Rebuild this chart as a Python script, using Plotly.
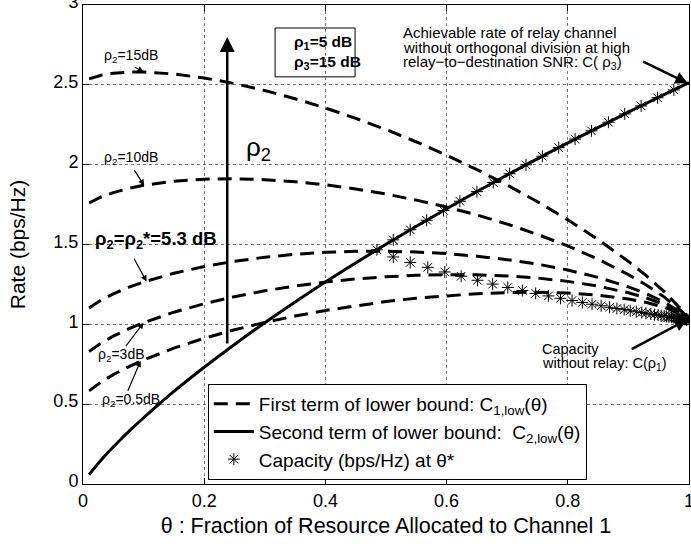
import plotly.graph_objects as go

# ---------------- data ----------------
theta = [0.01, 0.03, 0.05, 0.075, 0.1, 0.15, 0.2, 0.25, 0.3, 0.35, 0.4, 0.45, 0.5,
         0.55, 0.6, 0.65, 0.7, 0.75, 0.8, 0.85, 0.9, 0.93, 0.96, 0.98, 0.99, 1.0]
c1_rho2_0p5dB = [0.583, 0.639, 0.685, 0.734, 0.777, 0.851, 0.913, 0.966, 1.012, 1.052, 1.087, 1.117, 1.143,
                 1.164, 1.180, 1.192, 1.199, 1.201, 1.196, 1.183, 1.159, 1.137, 1.106, 1.077, 1.058, 1.029]
c1_rho2_3dB = [0.830, 0.883, 0.926, 0.971, 1.010, 1.076, 1.129, 1.173, 1.210, 1.240, 1.265, 1.284, 1.298,
               1.307, 1.311, 1.310, 1.303, 1.290, 1.269, 1.239, 1.198, 1.165, 1.123, 1.086, 1.062, 1.029]
c1_rho2_5p3dB = [1.103, 1.152, 1.191, 1.231, 1.265, 1.320, 1.362, 1.395, 1.420, 1.439, 1.451, 1.457, 1.458,
                 1.453, 1.443, 1.427, 1.405, 1.377, 1.340, 1.294, 1.235, 1.191, 1.138, 1.093, 1.066, 1.029]
c1_rho2_10dB = [1.760, 1.798, 1.825, 1.851, 1.871, 1.896, 1.909, 1.912, 1.906, 1.893, 1.874, 1.848, 1.816,
                1.778, 1.735, 1.685, 1.628, 1.563, 1.491, 1.408, 1.311, 1.245, 1.169, 1.109, 1.074, 1.029]
c1_rho2_15dB = [2.537, 2.560, 2.572, 2.580, 2.580, 2.568, 2.543, 2.508, 2.464, 2.413, 2.355, 2.290, 2.220,
                2.143, 2.059, 1.969, 1.872, 1.768, 1.655, 1.531, 1.394, 1.303, 1.202, 1.125, 1.082, 1.029]

theta_c2 = [0.01, 0.02, 0.03, 0.04, 0.06, 0.08, 0.1, 0.125, 0.15, 0.2, 0.25, 0.3, 0.35, 0.4,
            0.5, 0.6, 0.7, 0.8, 0.9, 1.0]
c2_low = [0.058, 0.106, 0.151, 0.193, 0.271, 0.345, 0.415, 0.499, 0.580, 0.731, 0.874, 1.010, 1.140, 1.265,
          1.501, 1.724, 1.935, 2.136, 2.329, 2.514]

theta_star_upper = [0.485, 0.512, 0.540, 0.567, 0.595, 0.622, 0.650, 0.677, 0.704, 0.731, 0.758, 0.785,
                    0.812, 0.839, 0.867, 0.894, 0.921, 0.948, 0.975]
cap_star_upper = [1.467, 1.529, 1.592, 1.652, 1.713, 1.771, 1.831, 1.888, 1.943, 1.999, 2.053, 2.107,
                  2.160, 2.212, 2.266, 2.318, 2.368, 2.419, 2.468]
theta_star_lower = [0.512, 0.540, 0.569, 0.597, 0.624, 0.651, 0.676, 0.701, 0.725, 0.747, 0.768, 0.788, 0.807,
                    0.824, 0.840, 0.855, 0.869, 0.881, 0.893, 0.903, 0.913, 0.922, 0.929, 0.937, 0.943, 0.949,
                    0.954, 0.959, 0.963, 0.967, 0.971, 0.974, 0.977, 0.979, 0.981, 0.983, 0.985, 0.987, 0.988,
                    0.989, 0.991, 0.992, 0.992, 0.993, 0.994, 0.995, 0.995, 0.996, 0.996, 0.997]
cap_star_lower = [1.422, 1.388, 1.357, 1.328, 1.301, 1.276, 1.252, 1.231, 1.212, 1.194, 1.178, 1.163, 1.149,
                  1.137, 1.126, 1.116, 1.107, 1.099, 1.092, 1.085, 1.079, 1.074, 1.069, 1.065, 1.061, 1.058,
                  1.054, 1.052, 1.049, 1.047, 1.045, 1.043, 1.042, 1.040, 1.039, 1.038, 1.037, 1.036, 1.035,
                  1.035, 1.034, 1.033, 1.033, 1.032, 1.032, 1.032, 1.031, 1.031, 1.031, 1.031]

x_ticks = [0, 0.2, 0.4, 0.6, 0.8, 1]
x_tick_labels = ["0", "0.2", "0.4", "0.6", "0.8", "1"]
y_ticks = [0, 0.5, 1, 1.5, 2, 2.5, 3]
y_tick_labels = ["0", "0.5", "1", "1.5", "2", "2.5", "3"]

FONT = "Liberation Sans, Arial, sans-serif"
DASH = "14px,8px"

fig = go.Figure()
first = True
for ys in [c1_rho2_0p5dB, c1_rho2_3dB, c1_rho2_5p3dB, c1_rho2_10dB, c1_rho2_15dB]:
    fig.add_trace(go.Scatter(
        x=theta, y=ys, mode="lines",
        line=dict(color="black", width=3, dash=DASH),
        name="First term of lower bound: C<sub>1,low</sub>(θ)",
        showlegend=first, legendgroup="c1"))
    first = False

fig.add_trace(go.Scatter(
    x=theta_c2, y=c2_low, mode="lines", line_shape="spline",
    line=dict(color="black", width=3),
    name="Second term of lower bound:  C<sub>2,low</sub>(θ)"))

fig.add_trace(go.Scatter(
    x=theta_star_upper + theta_star_lower, y=cap_star_upper + cap_star_lower, mode="markers",
    marker=dict(symbol="asterisk-open", size=10, color="black", line=dict(color="black", width=1)),
    name="Capacity (bps/Hz) at θ*"))

# ---------------- annotations ----------------
ann = []
def label(text, x, y, size=14, bold=False, xanchor="center"):
    t = f"<b>{text}</b>" if bold else text
    ann.append(dict(x=x, y=y, xref="x", yref="y", text=t, showarrow=False,
                    xanchor=xanchor, yanchor="middle", font=dict(family=FONT, size=size, color="black")))

def arrow(x0, y0, x1, y1, width=1, head=2, size=1.0):
    ann.append(dict(x=x1, y=y1, ax=x0, ay=y0, xref="x", yref="y", axref="x", ayref="y",
                    text="", showarrow=True, arrowhead=head, arrowsize=size, arrowwidth=width,
                    arrowcolor="black", standoff=0, startstandoff=0))

label("ρ<sub>2</sub>=15dB", 0.079, 2.68)
arrow(0.083, 2.615, 0.100, 2.580, width=1.2)
label("ρ<sub>2</sub>=10dB", 0.079, 2.04)
arrow(0.083, 1.975, 0.101, 1.870, width=1.2)
label("ρ<sub>2</sub>=ρ<sub>2</sub>*=5.3 dB", 0.12, 1.53, size=18.5, bold=True)
arrow(0.083, 1.42, 0.105, 1.268, width=1.2)
label("ρ<sub>2</sub>=3dB", 0.064, 0.81)
arrow(0.069, 0.855, 0.100, 1.010, width=1.2)
label("ρ<sub>2</sub>=0.5dB", 0.079, 0.525)
arrow(0.073, 0.575, 0.095, 0.772, width=1.2)

arrow(0.238, 0.87, 0.238, 2.80, width=2.5, head=2, size=1.2)
label("ρ<sub>2</sub>", 0.289, 2.10, size=26)

label("ρ<sub>1</sub>=5 dB", 0.345, 2.765, size=15.5, bold=True, xanchor="left")
label("ρ<sub>3</sub>=15 dB", 0.345, 2.64, size=15.5, bold=True, xanchor="left")

label("Achievable rate of relay channel", 0.525, 2.83, size=15, xanchor="left")
label("without orthogonal division at high", 0.525, 2.735, size=15, xanchor="left")
label("relay−to−destination SNR: C( ρ<sub>3</sub>)", 0.525, 2.64, size=15, xanchor="left")
arrow(0.922, 2.65, 0.998, 2.51, width=2.5, head=2, size=1.0)

label("Capacity", 0.754, 0.845, size=14.5, xanchor="left")
label("without relay: C(ρ<sub>1</sub>)", 0.754, 0.75, size=14.5, xanchor="left")
arrow(0.903, 0.84, 0.997, 1.03, width=2.5, head=2, size=1.0)

fig.update_layout(
    width=691, height=546,
    margin=dict(l=83, r=2, t=5, b=62),
    plot_bgcolor="white", paper_bgcolor="white",
    font=dict(family=FONT, size=18, color="black"),
    annotations=ann,
    shapes=[dict(type="rect", xref="x", yref="y", x0=0.317, x1=0.449, y0=2.55, y1=2.856,
                 line=dict(color="black", width=1), fillcolor="white", layer="below")],
    legend=dict(x=0.206, y=0.209, xanchor="left", yanchor="top",
                bgcolor="white", bordercolor="black", borderwidth=1,
                font=dict(family=FONT, size=19, color="black"),
                tracegroupgap=0, itemwidth=40),
)
fig.update_xaxes(range=[0, 1], tickvals=x_ticks, ticktext=x_tick_labels, automargin=False,
                 ticklabeloverflow="allow",
                 showline=True, linecolor="black", linewidth=1, mirror="ticks",
                 ticks="inside", ticklen=6, tickcolor="black",
                 showgrid=True, gridcolor="#777", griddash="dot", gridwidth=1, zeroline=False,
                 title=dict(text="θ : Fraction of Resource Allocated to Channel 1",
                            font=dict(family=FONT, size=21.5), standoff=8),
                 tickfont=dict(family=FONT, size=18))
fig.update_yaxes(range=[0, 3], tickvals=y_ticks, ticktext=y_tick_labels, automargin=False,
                 ticklabeloverflow="allow", ticklabelshift=-3,
                 showline=True, linecolor="black", linewidth=1, mirror="ticks",
                 ticks="inside", ticklen=6, tickcolor="black",
                 showgrid=True, gridcolor="#777", griddash="dot", gridwidth=1, zeroline=False,
                 title=dict(text="Rate (bps/Hz)", font=dict(family=FONT, size=21), standoff=22),
                 tickfont=dict(family=FONT, size=18))
fig.write_html("out.html", config={"displayModeBar": False},
               post_script="document.body.style.margin='0px';")
